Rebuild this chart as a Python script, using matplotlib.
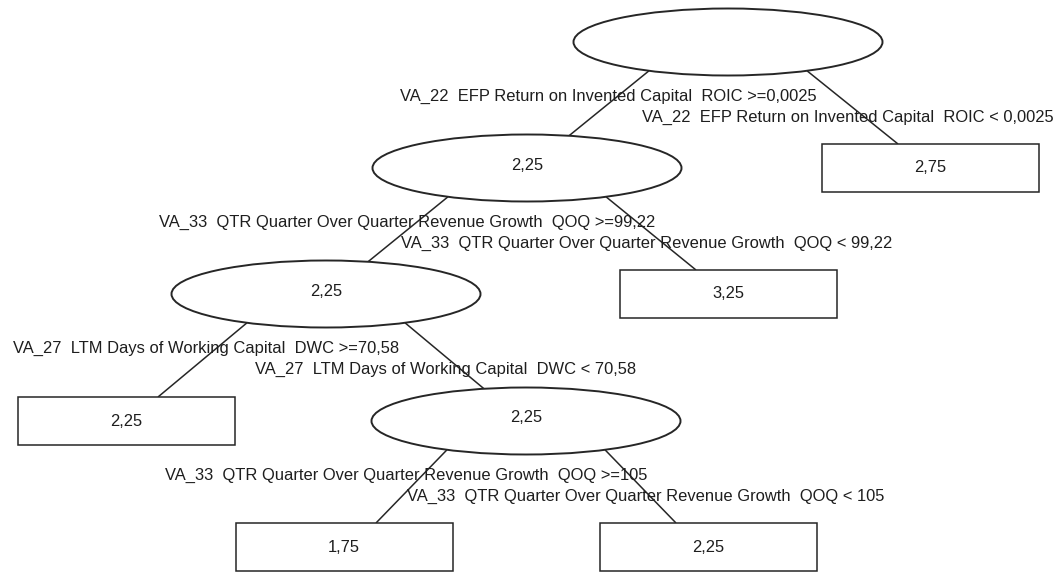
import matplotlib
matplotlib.use("Agg")
import matplotlib.pyplot as plt
from matplotlib.patches import Ellipse, Rectangle
import numpy as np

# ---- data ----
node_labels = ["", "2,25", "2,75", "2,25", "3,25", "2,25", "2,25", "1,75", "2,25"]
node_is_leaf = [False, False, True, False, True, True, False, True, True]
node_parent = [-1, 0, 0, 1, 1, 3, 3, 6, 6]
node_side = [0, -1, 1, -1, 1, -1, 1, -1, 1]   # -1 = left child, +1 = right child
split_left = [
    "VA_22  EFP Return on Invented Capital  ROIC >=0,0025",
    "VA_33  QTR Quarter Over Quarter Revenue Growth  QOQ >=99,22",
    "VA_27  LTM Days of Working Capital  DWC >=70,58",
    "VA_33  QTR Quarter Over Quarter Revenue Growth  QOQ >=105",
]
split_right = [
    "VA_22  EFP Return on Invented Capital  ROIC < 0,0025",
    "VA_33  QTR Quarter Over Quarter Revenue Growth  QOQ < 99,22",
    "VA_27  LTM Days of Working Capital  DWC < 70,58",
    "VA_33  QTR Quarter Over Quarter Revenue Growth  QOQ < 105",
]
split_nodes = [0, 1, 3, 6]

# ---- layout (pixel space) ----
W, H = 1061, 574
level_y = [42, 168, 294, 421, 547]
node_level = [0, 1, 1, 2, 2, 3, 3, 4, 4]
node_x = [728, 527, 930, 326, 728, 126, 526, 344, 708]
EW, EH = 309, 67      # ellipse size
BW, BH = 217, 48      # box size
LC = "#262626"
FS = 11.9
FONT = "Liberation Sans"

fig = plt.figure(figsize=(W / 100, H / 100), dpi=100)
ax = fig.add_axes([0, 0, 1, 1])
ax.set_xlim(0, W)
ax.set_ylim(H, 0)
ax.axis("off")

def ell_y(dx, sign):
    a, b = EW / 2, EH / 2
    return sign * b * np.sqrt(max(0.0, 1 - (dx / a) ** 2))

# edges
for i in range(1, len(node_labels)):
    p = node_parent[i]
    s = node_side[i]
    px, py = node_x[p], level_y[node_level[p]]
    cx, cy = node_x[i], level_y[node_level[i]]
    x0 = px + s * 79
    y0 = py + ell_y(79, 1)
    if node_is_leaf[i]:
        x1 = cx - s * 32
        y1 = cy - BH / 2
    else:
        x1 = cx - s * 42
        y1 = cy + ell_y(42, -1)
    ax.plot([x0, x1], [y0, y1], color=LC, lw=1.1, solid_capstyle="butt", zorder=1)

# nodes
for i, lab in enumerate(node_labels):
    cx, cy = node_x[i], level_y[node_level[i]]
    if node_is_leaf[i]:
        ax.add_patch(Rectangle((cx - BW / 2, cy - BH / 2), BW, BH, facecolor="white",
                               edgecolor=LC, lw=1.1, zorder=2))
    else:
        ax.add_patch(Ellipse((cx, cy), EW, EH, facecolor="white", edgecolor=LC,
                             lw=1.4, zorder=2))
    if lab:
        ax.text(cx, cy - (3 if not node_is_leaf[i] else 0), lab, ha="center", va="center",
                fontsize=FS, family=FONT, color="#1e1e1e", zorder=3)

# split labels
for k, n in enumerate(split_nodes):
    px, py = node_x[n], level_y[node_level[n]]
    ax.text(px - 120, py + 54, split_left[k], ha="center", va="center",
            fontsize=FS, family=FONT, color="#1e1e1e", zorder=4)
    ax.text(px + 120, py + 75, split_right[k], ha="center", va="center",
            fontsize=FS, family=FONT, color="#1e1e1e", zorder=4)

fig.savefig("out.png", dpi=100, facecolor="white")
